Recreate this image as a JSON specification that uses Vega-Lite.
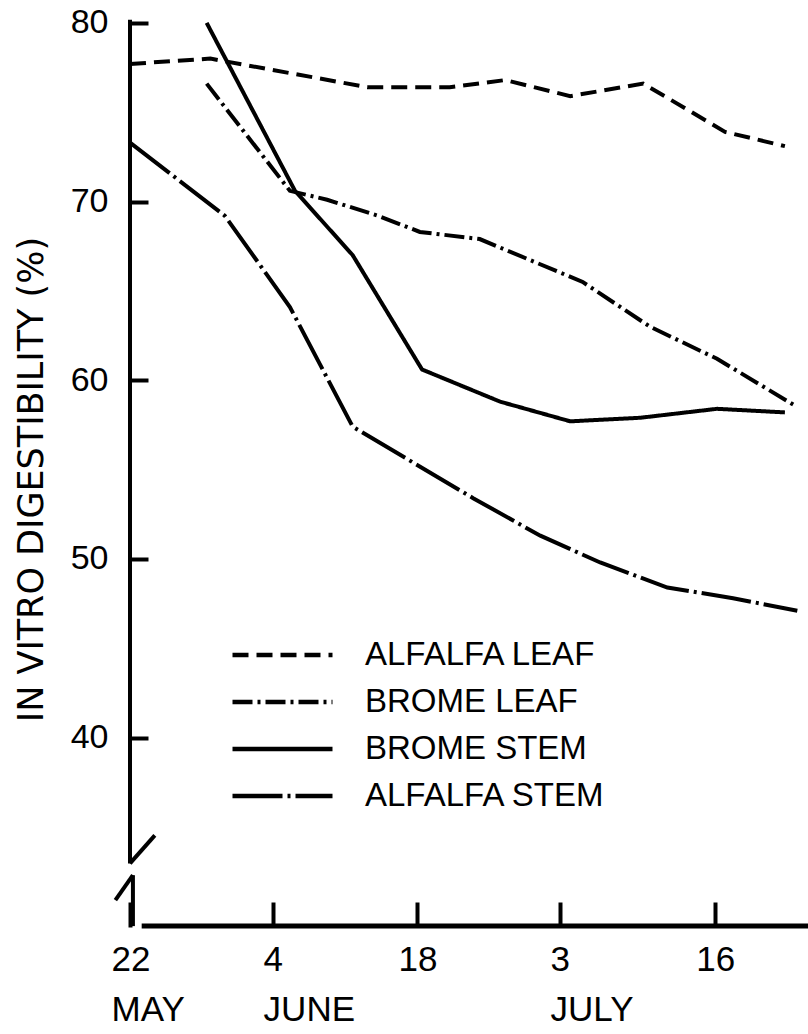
{
  "$schema": "https://vega.github.io/schema/vega-lite/v6.json",
  "width": 679,
  "height": 922,
  "autosize": {"type": "none"},
  "padding": {"left": 130, "top": 5, "right": 0, "bottom": 107},
  "background": "white",
  "config": {"view": {"stroke": null}, "font": "Liberation Sans"},
  "datasets": {
    "series": [
      {"series": "ALFALFA LEAF", "week": 0, "ivd": 77.7},
      {"series": "ALFALFA LEAF", "week": 1.1, "ivd": 78.0},
      {"series": "ALFALFA LEAF", "week": 3.25, "ivd": 76.4},
      {"series": "ALFALFA LEAF", "week": 4.38, "ivd": 76.4},
      {"series": "ALFALFA LEAF", "week": 5.14, "ivd": 76.8},
      {"series": "ALFALFA LEAF", "week": 6.03, "ivd": 75.9},
      {"series": "ALFALFA LEAF", "week": 7.03, "ivd": 76.6},
      {"series": "ALFALFA LEAF", "week": 8.15, "ivd": 73.9},
      {"series": "ALFALFA LEAF", "week": 8.97, "ivd": 73.1},
      {"series": "BROME LEAF", "week": 1.05, "ivd": 76.6},
      {"series": "BROME LEAF", "week": 2.19, "ivd": 70.6},
      {"series": "BROME LEAF", "week": 2.7, "ivd": 70.1},
      {"series": "BROME LEAF", "week": 3.4, "ivd": 69.2},
      {"series": "BROME LEAF", "week": 3.97, "ivd": 68.3},
      {"series": "BROME LEAF", "week": 4.79, "ivd": 67.9},
      {"series": "BROME LEAF", "week": 6.2, "ivd": 65.5},
      {"series": "BROME LEAF", "week": 7.12, "ivd": 63.0},
      {"series": "BROME LEAF", "week": 8.04, "ivd": 61.2},
      {"series": "BROME LEAF", "week": 9.14, "ivd": 58.5},
      {"series": "BROME STEM", "week": 1.05, "ivd": 80.0},
      {"series": "BROME STEM", "week": 2.26, "ivd": 70.6},
      {"series": "BROME STEM", "week": 3.05, "ivd": 67.0},
      {"series": "BROME STEM", "week": 4.0, "ivd": 60.6},
      {"series": "BROME STEM", "week": 5.07, "ivd": 58.8},
      {"series": "BROME STEM", "week": 6.03, "ivd": 57.7},
      {"series": "BROME STEM", "week": 6.99, "ivd": 57.9},
      {"series": "BROME STEM", "week": 8.04, "ivd": 58.4},
      {"series": "BROME STEM", "week": 8.97, "ivd": 58.2},
      {"series": "ALFALFA STEM", "week": 0, "ivd": 73.3},
      {"series": "ALFALFA STEM", "week": 1.3, "ivd": 69.2},
      {"series": "ALFALFA STEM", "week": 2.19, "ivd": 64.1},
      {"series": "ALFALFA STEM", "week": 3.05, "ivd": 57.4},
      {"series": "ALFALFA STEM", "week": 4.7, "ivd": 53.4},
      {"series": "ALFALFA STEM", "week": 5.62, "ivd": 51.3},
      {"series": "ALFALFA STEM", "week": 6.44, "ivd": 49.8},
      {"series": "ALFALFA STEM", "week": 7.36, "ivd": 48.4},
      {"series": "ALFALFA STEM", "week": 8.26, "ivd": 47.8},
      {"series": "ALFALFA STEM", "week": 9.14, "ivd": 47.1}
    ],
    "yframe": [
      {"week": 0, "ivd": 80.17, "week2": 0, "ivd2": 32.96},
      {"week": 0, "ivd": 32.96, "week2": 0.34, "ivd2": 34.53},
      {"week": -0.2, "ivd": 30.9, "week2": 0.04, "ivd2": 32.3},
      {"week": 0.04, "ivd": 32.3, "week2": 0.04, "ivd2": 29.45}
    ],
    "xframe": [
      {"week": 0.16, "ivd": 29.45, "week2": 9.3, "ivd2": 29.45}
    ]
  },
  "layer": [
    {
      "data": {"name": "series"},
      "mark": {"type": "line", "color": "black", "strokeWidth": 4, "strokeCap": "butt", "clip": false},
      "encoding": {
        "x": {
          "field": "week", "type": "quantitative",
          "scale": {"domain": [0, 9.3], "nice": false, "zero": false},
          "axis": {
            "title": null, "domain": false, "grid": false,
            "values": [0, 1.96, 3.93, 5.89, 8.01],
            "tickSize": -25, "tickWidth": 4, "tickColor": "black",
            "labelPadding": 40, "labelBaseline": "top", "labelAlign": "left",
            "labelFlush": false, "labelOverlap": false,
            "labelOffset": {"condition": {"test": "datum.value < 1 || (datum.value > 3 && datum.value < 5) || datum.value > 7", "value": -19}, "value": -10},
            "labelLineHeight": 50, "labelFontSize": 35, "labelColor": "black",
            "labelFont": "Liberation Sans",
            "labelExpr": "datum.value < 1 ? ['22', 'MAY'] : datum.value < 3 ? ['4', 'JUNE'] : datum.value < 5 ? '18' : datum.value < 7 ? ['3', 'JULY'] : '16'"
          }
        },
        "y": {
          "field": "ivd", "type": "quantitative",
          "scale": {"domain": [29.4, 81], "nice": false, "zero": false},
          "axis": {
            "title": "IN VITRO DIGESTIBILITY (%)", "domain": false, "grid": false,
            "values": [40, 50, 60, 70, 80],
            "tickSize": -18, "tickWidth": 4, "tickColor": "black",
            "labelPadding": 40, "labelFontSize": 34, "labelColor": "black",
            "labelFont": "Liberation Sans",
            "titleFont": "DejaVu Sans", "titleFontSize": 35, "titleFontWeight": "normal",
            "titleColor": "black", "titleAngle": -90, "titleX": -99, "titleY": 474,
            "titleAlign": "center", "titleBaseline": "middle"
          }
        },
        "strokeDash": {
          "field": "series", "type": "nominal",
          "scale": {
            "domain": ["ALFALFA LEAF", "BROME LEAF", "BROME STEM", "ALFALFA STEM"],
            "range": [[16, 8], [20, 5, 3, 5], [1, 0], [50, 5, 3, 5]]
          },
          "legend": {
            "title": null, "orient": "none", "legendX": 100, "legendY": 630,
            "padding": 0, "symbolType": "stroke", "symbolSize": 10000,
            "symbolStrokeWidth": 4.5, "symbolStrokeColor": "black",
            "clipHeight": 40, "rowPadding": 7, "labelOffset": 30,
            "labelFontSize": 33, "labelFont": "Liberation Sans",
            "labelColor": "black", "labelLimit": 400
          }
        }
      }
    },
    {
      "data": {"name": "yframe"},
      "mark": {"type": "rule", "color": "black", "strokeWidth": 4, "strokeCap": "butt", "clip": false},
      "encoding": {
        "x": {"field": "week", "type": "quantitative"},
        "x2": {"field": "week2"},
        "y": {"field": "ivd", "type": "quantitative"},
        "y2": {"field": "ivd2"}
      }
    },
    {
      "data": {"name": "xframe"},
      "mark": {"type": "rule", "color": "black", "strokeWidth": 5, "strokeCap": "butt", "clip": false},
      "encoding": {
        "x": {"field": "week", "type": "quantitative"},
        "x2": {"field": "week2"},
        "y": {"field": "ivd", "type": "quantitative"},
        "y2": {"field": "ivd2"}
      }
    }
  ]
}
